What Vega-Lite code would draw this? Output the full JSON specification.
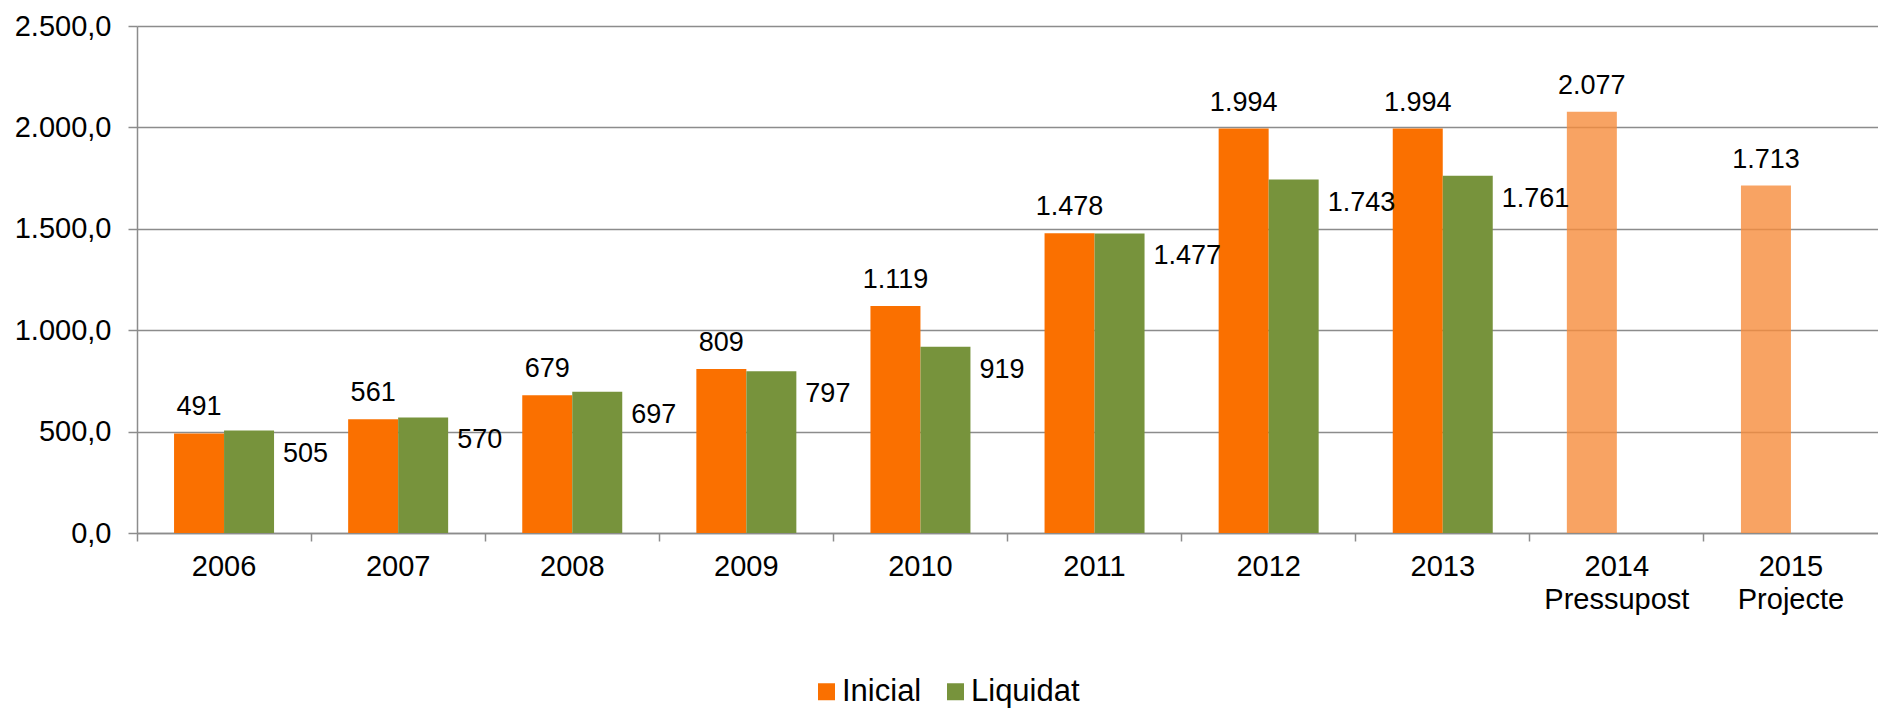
{
  "$schema": "https://vega.github.io/schema/vega-lite/v6.json",
  "width": 1741,
  "height": 507,
  "autosize": {"type": "none"},
  "padding": {"left": 137, "top": 26, "right": 0, "bottom": 177},
  "config": {
    "locale": {"number": {"decimal": ",", "thousands": ".", "grouping": [3], "currency": ["", " €"]}},
    "view": {"stroke": null},
    "font": "Liberation Sans"
  },
  "data": {
    "values": [
      {"cat": "2006", "series": "Inicial", "value": 491, "kind": "real"},
      {"cat": "2006", "series": "Liquidat", "value": 505, "kind": "real"},
      {"cat": "2007", "series": "Inicial", "value": 561, "kind": "real"},
      {"cat": "2007", "series": "Liquidat", "value": 570, "kind": "real"},
      {"cat": "2008", "series": "Inicial", "value": 679, "kind": "real"},
      {"cat": "2008", "series": "Liquidat", "value": 697, "kind": "real"},
      {"cat": "2009", "series": "Inicial", "value": 809, "kind": "real"},
      {"cat": "2009", "series": "Liquidat", "value": 797, "kind": "real"},
      {"cat": "2010", "series": "Inicial", "value": 1119, "kind": "real"},
      {"cat": "2010", "series": "Liquidat", "value": 919, "kind": "real"},
      {"cat": "2011", "series": "Inicial", "value": 1478, "kind": "real"},
      {"cat": "2011", "series": "Liquidat", "value": 1477, "kind": "real"},
      {"cat": "2012", "series": "Inicial", "value": 1994, "kind": "real"},
      {"cat": "2012", "series": "Liquidat", "value": 1743, "kind": "real"},
      {"cat": "2013", "series": "Inicial", "value": 1994, "kind": "real"},
      {"cat": "2013", "series": "Liquidat", "value": 1761, "kind": "real"},
      {"cat": "2014|Pressupost", "series": "Inicial", "value": 2077, "kind": "proj"},
      {"cat": "2015|Projecte", "series": "Inicial", "value": 1713, "kind": "proj"}
    ]
  },
  "encoding": {
    "x": {
      "field": "cat", "type": "nominal", "sort": null,
      "scale": {"paddingInner": 0, "paddingOuter": 0},
      "axis": {
        "title": null, "labelAngle": 0, "labelExpr": "split(datum.label, '|')",
        "labelFontSize": 29, "labelColor": "#000", "labelLineHeight": 33, "labelPadding": 11,
        "bandPosition": 0, "tickSize": 8, "tickColor": "#8c8c8c", "tickWidth": 1.5,
        "domainColor": "#8c8c8c", "domainWidth": 1.5, "grid": false
      }
    },
    "xOffset": {
      "field": "series", "type": "nominal",
      "scale": {"domain": ["Inicial", "Liquidat"], "paddingInner": 0, "paddingOuter": 0.741}
    },
    "y": {
      "field": "value", "type": "quantitative",
      "scale": {"domain": [0, 2500], "nice": false},
      "axis": {
        "title": null, "values": [0, 500, 1000, 1500, 2000, 2500], "format": ",.1f",
        "labelFontSize": 29, "labelColor": "#000", "labelPadding": 17,
        "tickSize": 9, "tickColor": "#8c8c8c", "tickWidth": 1.5,
        "domainColor": "#8c8c8c", "domainWidth": 1.5,
        "gridColor": "#8c8c8c", "gridWidth": 1.5
      }
    }
  },
  "layer": [
    {
      "transform": [{"filter": "datum.kind === 'real'"}],
      "mark": {"type": "bar"},
      "encoding": {
        "color": {
          "field": "series", "type": "nominal",
          "scale": {"domain": ["Inicial", "Liquidat"], "range": ["#FA7000", "#77933C"]},
          "legend": {
            "title": null, "orient": "none", "legendX": 674, "legendY": 650,
            "direction": "horizontal", "symbolType": "square", "symbolSize": 289,
            "symbolStrokeWidth": 0, "labelFontSize": 31, "labelOffset": 0,
            "columnPadding": 18, "labelColor": "#000"
          }
        }
      }
    },
    {
      "transform": [{"filter": "datum.kind === 'proj'"}],
      "mark": {"type": "bar", "color": "#F68C3C", "opacity": 0.8}
    },
    {
      "transform": [{"filter": "datum.series === 'Inicial'"}],
      "mark": {"type": "text", "align": "center", "baseline": "alphabetic", "dy": -18, "fontSize": 27, "color": "#000"},
      "encoding": {"text": {"field": "value", "type": "quantitative", "format": ",d"}}
    },
    {
      "transform": [{"filter": "datum.series === 'Liquidat'"}],
      "mark": {"type": "text", "align": "left", "baseline": "alphabetic", "dx": 34, "dy": 31, "fontSize": 27, "color": "#000"},
      "encoding": {"text": {"field": "value", "type": "quantitative", "format": ",d"}}
    }
  ]
}
